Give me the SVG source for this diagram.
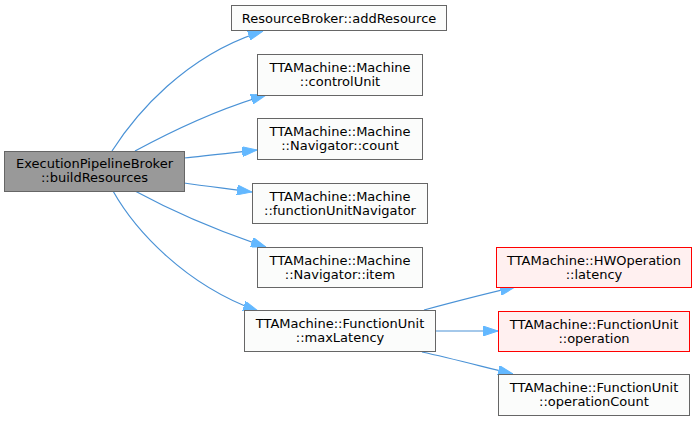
<svg xmlns="http://www.w3.org/2000/svg" width="697" height="421" viewBox="0 0 697 421">
<defs>
<style>
.n rect{fill:#fbfcfb;stroke:#666666;stroke-width:1}
.m rect{fill:#999999;stroke:#666666;stroke-width:1}
.r rect{fill:#fff0f0;stroke:#ff0000;stroke-width:1}
text{font-family:"DejaVu Sans",sans-serif;font-size:13px;fill:#000000;text-anchor:middle}
.e path{fill:none;stroke:#4a92d6;stroke-width:1.2}
</style>
<marker id="ah" viewBox="0 0 15 10" refX="15" refY="5" markerWidth="15" markerHeight="10" markerUnits="userSpaceOnUse" orient="auto">
<polygon points="0,0 15,5 0,10" fill="#63b8ff" stroke="#63b8ff" stroke-width="1"/>
</marker>
</defs>
<rect width="697" height="421" fill="#ffffff"/>
<g id="edges" class="e">
<path d="M112,151 C135,115 185,55 263,31" marker-end="url(#ah)"/>
<path d="M135,151 C170,132 215,110 266,95" marker-end="url(#ah)"/>
<path d="M184,158 C205,156 230,153 257,150" marker-end="url(#ah)"/>
<path d="M184,183 C205,186 230,189 252,192" marker-end="url(#ah)"/>
<path d="M135,191 C170,210 215,230 266,247" marker-end="url(#ah)"/>
<path d="M113,191 C135,230 185,285 258,311" marker-end="url(#ah)"/>
<path d="M424,310 C450,303 480,295 515,287" marker-end="url(#ah)"/>
<path d="M436,331 L498,331" marker-end="url(#ah)"/>
<path d="M422,352 C450,358 480,366 513,374" marker-end="url(#ah)"/>
</g>
<g id="node_main" class="m">
<rect x="4.5" y="151.5" width="180" height="40"/>
<text x="94.5" y="167.5">ExecutionPipelineBroker</text>
<text x="94.5" y="181.5">::buildResources</text>
</g>
<g id="node_addResource" class="n">
<rect x="231.5" y="5.5" width="215" height="25"/>
<text x="339" y="22.5">ResourceBroker::addResource</text>
</g>
<g id="node_controlUnit" class="n">
<rect x="257.5" y="54.5" width="165" height="41"/>
<text x="340" y="71.5">TTAMachine::Machine</text>
<text x="340" y="85.5">::controlUnit</text>
</g>
<g id="node_count" class="n">
<rect x="257.5" y="118.5" width="165" height="41"/>
<text x="340" y="135.5">TTAMachine::Machine</text>
<text x="340" y="149.5">::Navigator::count</text>
</g>
<g id="node_functionUnitNavigator" class="n">
<rect x="252.5" y="183.5" width="175" height="40"/>
<text x="340" y="200.5">TTAMachine::Machine</text>
<text x="340" y="214.5">::functionUnitNavigator</text>
</g>
<g id="node_item" class="n">
<rect x="257.5" y="247.5" width="165" height="40"/>
<text x="340" y="264.5">TTAMachine::Machine</text>
<text x="340" y="278.5">::Navigator::item</text>
</g>
<g id="node_maxLatency" class="n">
<rect x="244.5" y="310.5" width="191" height="41"/>
<text x="340" y="327.5">TTAMachine::FunctionUnit</text>
<text x="340" y="341.5">::maxLatency</text>
</g>
<g id="node_latency" class="r">
<rect x="496.5" y="247.5" width="195" height="40"/>
<text x="594" y="264.5">TTAMachine::HWOperation</text>
<text x="594" y="278.5">::latency</text>
</g>
<g id="node_operation" class="r">
<rect x="498.5" y="311.5" width="191" height="40"/>
<text x="594" y="328.5">TTAMachine::FunctionUnit</text>
<text x="594" y="342.5">::operation</text>
</g>
<g id="node_operationCount" class="n">
<rect x="498.5" y="374.5" width="191" height="41"/>
<text x="594" y="391.5">TTAMachine::FunctionUnit</text>
<text x="594" y="405.5">::operationCount</text>
</g>
</svg>
